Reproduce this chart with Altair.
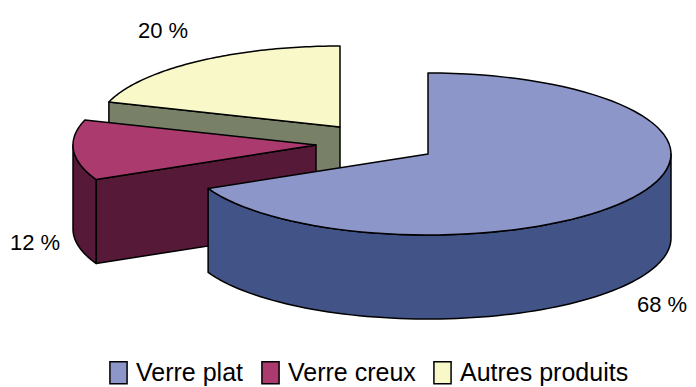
import math
import altair as alt
import pandas as pd

categories = ["Verre plat", "Verre creux", "Autres produits"]
shares = [68, 12, 20]
top_colors = ["#8c96c8", "#ab3a6e", "#f8f8c8"]
side_colors = ["#425387", "#561a38", "#788068"]
label_texts = ["68 %", "12 %", "20 %"]

W, H = 688, 387
RX, RY, DEPTH = 243, 81, 84
FONT = "Liberation Sans"
centers = [(428, 154), (316, 145), (340, 127)]
label_pos = [(662, 305), (35, 243), (163, 31)]

x_scale = alt.Scale(domain=[8, W], range=[0, W - 8], nice=False, zero=False)
y_scale = alt.Scale(domain=[8, H], range=[0, H - 8], nice=False, zero=False)

def rim(c, a0, a1, dy=0, n=80):
    out = []
    for i in range(n + 1):
        t = math.radians(a0 + (a1 - a0) * i / n)
        out.append((c[0] + RX * math.sin(t), c[1] - RY * math.cos(t) + dy))
    return out

def poly(points, fill):
    df = pd.DataFrame({"x": [p[0] for p in points], "y": [p[1] for p in points], "o": range(len(points))})
    return alt.Chart(df).mark_line(
        interpolate="linear-closed", fill=fill, stroke="#000000", strokeWidth=1.5, strokeJoin="round"
    ).encode(
        x=alt.X("x:Q", scale=x_scale, axis=None),
        y=alt.Y("y:Q", scale=y_scale, axis=None),
        order="o:Q",
    )

angles = []
acc = 0
for s in shares:
    angles.append((acc * 3.6, (acc + s) * 3.6))
    acc += s

def radial_wall(c, a):
    e = rim(c, a, a, n=1)[0]
    return [e, c, (c[0], c[1] + DEPTH), (e[0], e[1] + DEPTH)]

def outer_wall(c, a0, a1):
    return rim(c, a0, a1) + rim(c, a1, a0, DEPTH)

def top(c, a0, a1):
    return [c] + rim(c, a0, a1)

layers = []
# Autres produits (back)
a0, a1 = angles[2]
layers.append(poly(radial_wall(centers[2], a0), side_colors[2]))
layers.append(poly(top(centers[2], a0, a1), top_colors[2]))
# Verre creux
a0, a1 = angles[1]
layers.append(poly(radial_wall(centers[1], a0), side_colors[1]))
layers.append(poly(outer_wall(centers[1], a0, min(a1, 270)), side_colors[1]))
layers.append(poly(top(centers[1], a0, a1), top_colors[1]))
# Verre plat (front)
a0, a1 = angles[0]
layers.append(poly(outer_wall(centers[0], 90, a1), side_colors[0]))
layers.append(poly(top(centers[0], a0, a1), top_colors[0]))

labels = pd.DataFrame({"x": [p[0] for p in label_pos], "y": [p[1] for p in label_pos], "t": label_texts})
layers.append(alt.Chart(labels).mark_text(font=FONT, fontSize=22, color="#000000").encode(
    x=alt.X("x:Q", scale=x_scale, axis=None), y=alt.Y("y:Q", scale=y_scale, axis=None), text="t:N"))

legend_df = pd.DataFrame({"c": categories, "x": [100, 100, 100], "y": [100, 100, 100]})
layers.append(alt.Chart(legend_df).mark_point(opacity=0, filled=True).encode(
    x=alt.X("x:Q", scale=x_scale, axis=None), y=alt.Y("y:Q", scale=y_scale, axis=None),
    color=alt.Color("c:N", scale=alt.Scale(domain=categories, range=top_colors), sort=categories, legend=alt.Legend(
        title=None, orient="none", legendX=98, legendY=352, direction="horizontal", columns=3,
        symbolType="M-0.78,-1H0.78V1H-0.78Z", symbolSize=484, symbolOpacity=1,
        symbolStrokeColor="#000000", symbolStrokeWidth=1.5,
        labelFont=FONT, labelFontSize=25, labelColor="#000000", labelLimit=300,
        columnPadding=14, labelOffset=5, padding=0))))

chart = alt.layer(*layers).properties(
    width=W - 8, height=H - 8, padding=0, autosize=alt.AutoSizeParams(type="none")
).configure(background="#ffffff").configure_view(stroke=None)
chart.save("out.html", embed_options={"renderer": "svg", "actions": False})
